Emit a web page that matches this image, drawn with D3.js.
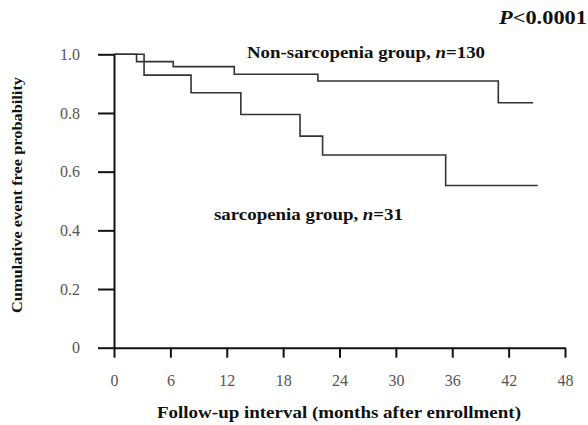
<!DOCTYPE html>
<html>
<head>
<meta charset="utf-8">
<script src="https://cdn.jsdelivr.net/npm/d3@7"></script>
<style>
  body { margin: 0; background: #fff; }
  svg { display: block; font-family: "Liberation Serif", "Times New Roman", serif; }
</style>
</head>
<body>
<svg id="chart" width="588" height="425"></svg>
<script>
// Kaplan-Meier steps (months, probability)
const nonSarcTimes = [0, 2.4, 6.3, 12.8, 21.7, 40.9, 44.6];
const nonSarcSurv  = [1.0, 0.975, 0.958, 0.932, 0.909, 0.835, 0.835];
const sarcTimes = [0, 3.2, 8.2, 13.5, 19.8, 22.2, 35.3, 45.1];
const sarcSurv  = [1.0, 0.929, 0.869, 0.795, 0.721, 0.657, 0.553, 0.553];

const xTicks = [0, 6, 12, 18, 24, 30, 36, 42, 48];
const yTicks = [0, 0.2, 0.4, 0.6, 0.8, 1.0];

const svg = d3.select("#chart");

const x = d3.scaleLinear().domain([0, 48]).range([114, 565]);
const y = d3.scaleLinear().domain([0, 1]).range([347.7, 54.3]);

// axes
const xAxis = svg.append("g")
    .attr("transform", `translate(0,${y(0)})`)
    .call(d3.axisBottom(x).tickValues(xTicks).tickSize(10).tickSizeOuter(0).tickPadding(17));

const yAxis = svg.append("g")
    .attr("transform", `translate(${x(0)},0)`)
    .call(d3.axisLeft(y).tickValues(yTicks).tickSize(16).tickSizeOuter(0).tickPadding(18)
        .tickFormat(d => d === 0 ? "0" : d.toFixed(1)));

[xAxis, yAxis].forEach(g => {
    g.selectAll("path, line").attr("stroke", "#111").attr("stroke-width", 2);
    g.selectAll("text")
        .attr("fill", "#555")
        .style("font-family", "Liberation Serif")
        .style("font-size", "16px");
});

// step curves
const line = d3.line()
    .x(d => x(d[0]))
    .y(d => y(d[1]))
    .curve(d3.curveStepAfter);

svg.append("path")
    .datum(d3.zip(nonSarcTimes, nonSarcSurv))
    .attr("fill", "none")
    .attr("stroke", "#333")
    .attr("stroke-width", 1.6)
    .attr("d", line);

svg.append("path")
    .datum(d3.zip(sarcTimes, sarcSurv))
    .attr("fill", "none")
    .attr("stroke", "#333")
    .attr("stroke-width", 1.6)
    .attr("d", line);

// annotations (original lettering is wide, so stretch to its measured width)
const pText = svg.append("text")
    .attr("x", 499).attr("y", 24)
    .attr("textLength", 88).attr("lengthAdjust", "spacingAndGlyphs")
    .style("font-size", "18px").style("font-weight", "bold").attr("fill", "#111");
pText.append("tspan").style("font-style", "italic").text("P");
pText.append("tspan").text("<0.0001");

const nonLabel = svg.append("text")
    .attr("x", 247).attr("y", 58)
    .attr("textLength", 238).attr("lengthAdjust", "spacingAndGlyphs")
    .style("font-size", "17px").style("font-weight", "bold").attr("fill", "#111");
nonLabel.append("tspan").text("Non-sarcopenia group, ");
nonLabel.append("tspan").style("font-style", "italic").text("n");
nonLabel.append("tspan").text("=130");

const sarcLabel = svg.append("text")
    .attr("x", 214).attr("y", 220)
    .attr("textLength", 189).attr("lengthAdjust", "spacingAndGlyphs")
    .style("font-size", "17px").style("font-weight", "bold").attr("fill", "#111");
sarcLabel.append("tspan").text("sarcopenia group, ");
sarcLabel.append("tspan").style("font-style", "italic").text("n");
sarcLabel.append("tspan").text("=31");

// axis titles
svg.append("text")
    .attr("transform", "translate(22,195) rotate(-90)")
    .attr("text-anchor", "middle")
    .attr("textLength", 236).attr("lengthAdjust", "spacingAndGlyphs")
    .style("font-size", "15px").style("font-weight", "bold").attr("fill", "#111")
    .text("Cumulative event free probability");

svg.append("text")
    .attr("x", 339).attr("y", 418)
    .attr("text-anchor", "middle")
    .attr("textLength", 364).attr("lengthAdjust", "spacingAndGlyphs")
    .style("font-size", "17px").style("font-weight", "bold").attr("fill", "#111")
    .text("Follow-up interval (months after enrollment)");
</script>
</body>
</html>
